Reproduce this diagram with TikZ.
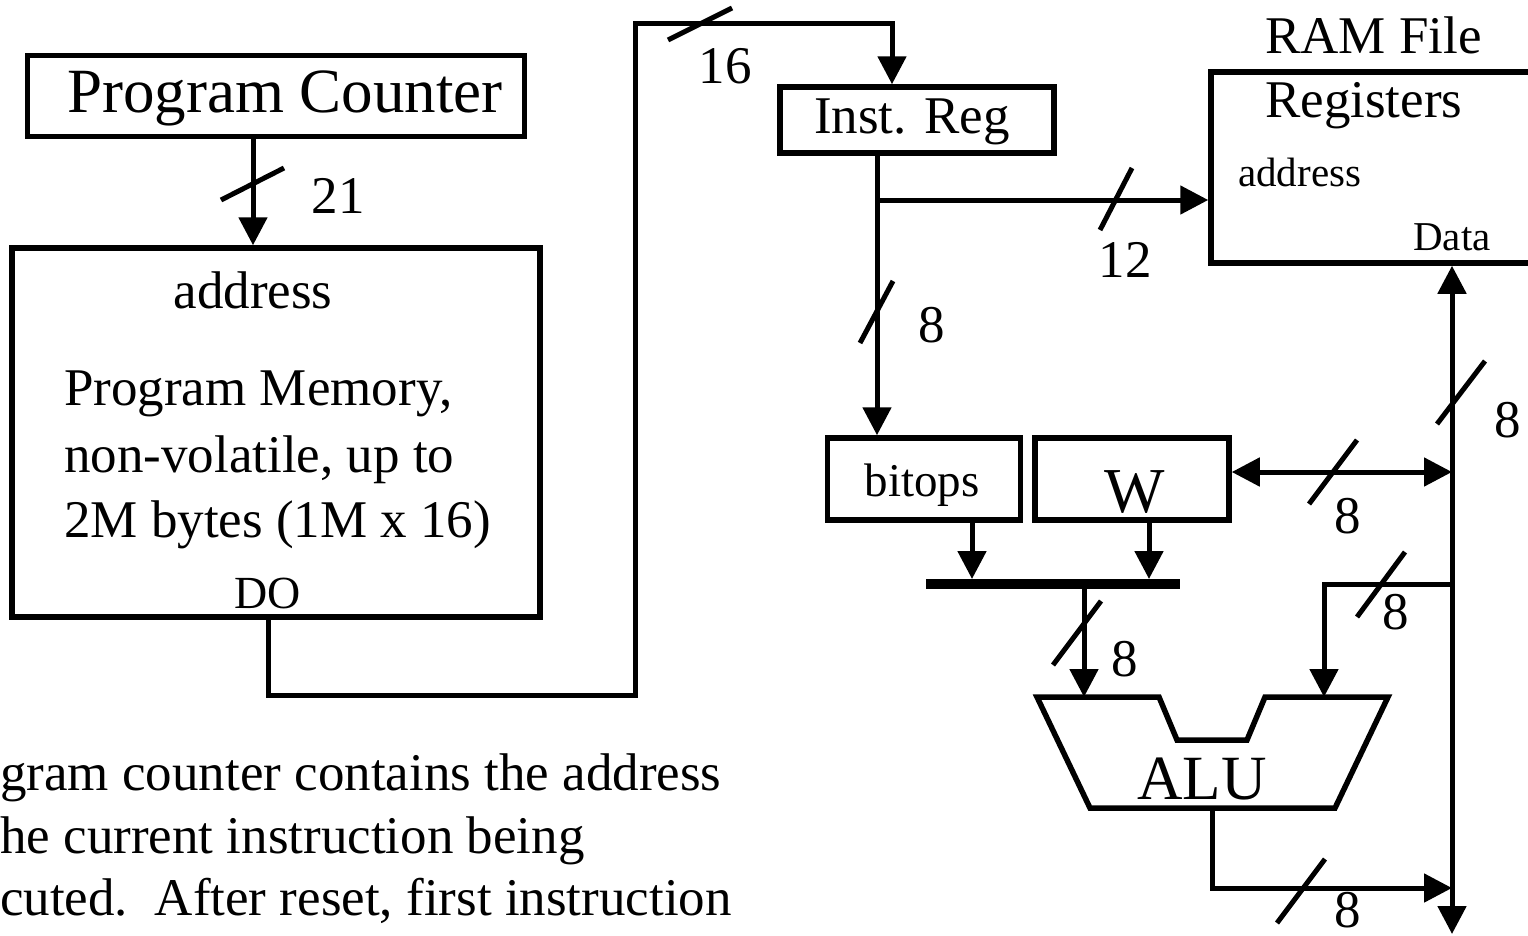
\documentclass[tikz,border=0pt]{standalone}
\usepackage{fontspec}
\setmainfont{Liberation Serif}
\usetikzlibrary{arrows.meta}

\begin{document}
\begin{tikzpicture}[x=1pt,y=-1pt,
  blk/.style={draw,line width=5.5pt,inner sep=0pt},
  wire/.style={line width=5pt},
  tip/.style={-{Triangle[length=28pt,width=28pt]}},
  tips/.style={{Triangle[length=28pt,width=28pt]}-{Triangle[length=28pt,width=28pt]}},
  tick/.style={line width=5pt},
  txt/.style={inner sep=0pt,anchor=base,font=\fontsize{53}{60}\selectfont},
  big/.style={txt,font=\fontsize{63}{70}\selectfont},
  sml/.style={txt,font=\fontsize{41}{48}\selectfont}]

\useasboundingbox (0,0) rectangle (1528,935);
\clip (0,0) rectangle (1528,935);

% program side
\node[blk,minimum width=497pt,minimum height=81pt] (pc) at (276,96) {};
\node[big] (pctxt) at (285,112) {Program Counter};
\node[blk,minimum width=528pt,minimum height=369pt] (pm) at (276,432.5) {};
\node[txt] (pmaddr) at (253,308) {address};
\node[txt,anchor=base west] (pm1) at (64,405) {Program Memory,};
\node[txt,anchor=base west] (pm2) at (64,472) {non-volatile, up to};
\node[txt,anchor=base west] (pm3) at (64,537) {2M bytes (1M x 16)};
\node[txt,font=\fontsize{46}{50}\selectfont] (pmdo) at (268,608) {DO};

% data side
\node[blk,minimum width=274pt,minimum height=66pt] (ir) at (917,120) {};
\node[txt] (irtxt) at (912,133) {Inst. Reg};
\node[blk,minimum width=350pt,minimum height=191pt] (ram) at (1386,167.5) {};
\node[txt,anchor=base west] (ramtitle) at (1265,53) {RAM File};
\node[txt,anchor=base west] (ramreg) at (1265,117) {Registers};
\node[sml,anchor=base west] (ramaddr) at (1238,186) {address};
\node[sml] (ramdata) at (1452,250) {Data};
\node[blk,minimum width=193pt,minimum height=82pt] (bitops) at (924,479) {};
\node[txt,font=\fontsize{47}{50}\selectfont] (bitopstxt) at (922,496) {bitops};
\node[blk,minimum width=194pt,minimum height=82pt] (w) at (1132,479) {};
\node[txt,font=\fontsize{64}{70}\selectfont] (wtxt) at (1135,512) {W};
\node[fill,inner sep=0pt,minimum width=254pt,minimum height=10pt] (bar) at (1053,584) {};

% alu
\draw[line width=5.5pt] (1037,697) -- (1159,697) -- (1177,740) -- (1247,740) -- (1265,697)
  -- (1388,697) -- (1335,808) -- (1090,808) -- cycle;
\node[txt,font=\fontsize{63}{70}\selectfont] (alutxt) at (1202,799) {ALU};
\coordinate (aluA) at (1084,697);
\coordinate (aluB) at (1324,697);
\coordinate (aluY) at (1212,808);

\coordinate (dobend) at (635,695);
\coordinate (irfeed) at (892,23);
\coordinate (irsplit) at (877,200);
\coordinate (barL) at (972,579);
\coordinate (barR) at (1149,579);
\coordinate (busend) at (1452,934);
\coordinate (busw) at (1452,472);
\coordinate (bustap) at (1452,584);
\coordinate (busin) at (1452,888);

\draw[wire,tip] (pc.south -| pmaddr) -- (pm.north -| pmaddr);
\draw[wire,tip] (pm.south -| pmdo) |- (dobend) |- (irfeed) -- (ir.north -| irfeed);
\draw[wire,tip] (ir.south -| irsplit) -- (bitops.north -| irsplit);
\draw[wire,tip] (irsplit) -- (ram.west |- irsplit);
\draw[wire,tip] (bitops.south -| barL) -- (barL);
\draw[wire,tip] (w.south -| barR) -- (barR);
\draw[wire,tip] (bar.south -| aluA) -- (aluA);
\draw[wire,tips] (ram.south -| busend) -- (busend);
\draw[wire,tips] (w.east |- busw) -- (busw);
\draw[wire,tip] (bustap) -| (aluB);
\draw[wire,tip] (aluY) |- (busin);

% bus widths
\foreach \a/\b in {{221,200}/{284,168},{668,40}/{732,8},{1100,230}/{1132,168},
  {860,343}/{893,281},{1437,424}/{1485,361},{1309,504}/{1357,440},
  {1053,665}/{1101,601},{1357,617}/{1405,552},{1277,923}/{1325,859}}
  \draw[tick] (\a) -- (\b);
\node[txt] (w21) at (338,213) {21};
\node[txt] (w16) at (725,83) {16};
\node[txt] (w12) at (1125,277) {12};
\node[txt] (wir) at (932,342) {8};
\node[txt] (wbus) at (1508,437) {8};
\node[txt] (ww) at (1348,533) {8};
\node[txt] (wbar) at (1125,676) {8};
\node[txt] (wtap) at (1396,629) {8};
\node[txt] (wout) at (1348,927) {8};

\node[txt,anchor=base west] (note1) at (0,790) {gram counter contains the address};
\node[txt,anchor=base west] (note2) at (0,853) {he current instruction being};
\node[txt,anchor=base west] (note3) at (0,915) {cuted.\ \ After reset, first instruction};
\end{tikzpicture}
\end{document}
